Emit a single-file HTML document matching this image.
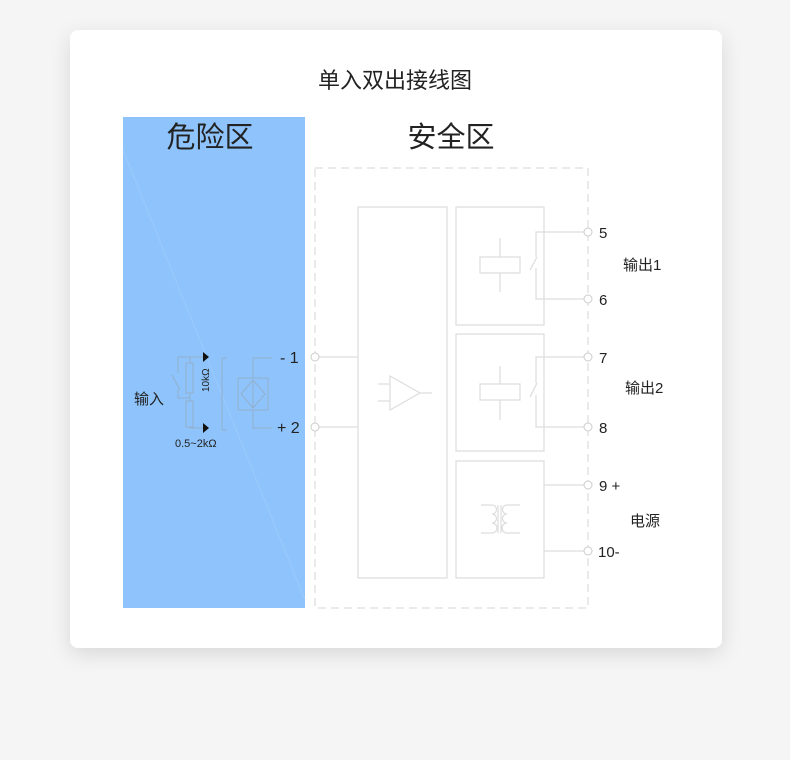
<!DOCTYPE html><html><head><meta charset="utf-8"><style>
body{margin:0;width:790px;height:760px;background:#f5f5f5;overflow:hidden;font-family:"Liberation Sans","Noto Sans CJK SC",sans-serif}
.card{position:absolute;left:70px;top:30px;width:652px;height:618px;background:#fff;border-radius:8px;box-shadow:0 6px 22px rgba(0,0,0,0.12)}
svg{position:absolute;left:0;top:0}
</style></head><body><div class="card"></div>
<svg width="790" height="760" font-family="Liberation Sans, Noto Sans CJK SC, sans-serif">
<rect x="123" y="117" width="182" height="491" fill="#8ec3fb"/>
<line x1="123" y1="150" x2="305" y2="600" stroke="#9ccafb" stroke-width="1"/>
<text x="395" y="88" font-size="22" text-anchor="middle" fill="#222">单入双出接线图</text>
<text x="210" y="147" font-size="29" text-anchor="middle" fill="#222">危险区</text>
<text x="451" y="147" font-size="29" text-anchor="middle" fill="#222">安全区</text>
<g fill="none" stroke="#ddd" stroke-width="1.2">
<rect x="315" y="168" width="273" height="440" stroke-dasharray="8,5"/>
<rect x="358" y="207" width="89" height="371"/>
<rect x="456" y="207" width="88" height="118"/>
<rect x="456" y="334" width="88" height="117"/>
<rect x="456" y="461" width="88" height="117"/>
<path d="M315 357H358M315 427H358"/>
<path d="M390 376L420 393L390 410Z M378 384H390M378 401H390M420 393H432"/>
<rect x="480" y="257" width="40" height="16"/><path d="M500 238V257M500 273V292"/>
<path d="M588 232H536V257M530 270L537 257M536 268V299H588"/>
<rect x="480" y="384" width="40" height="16"/><path d="M500 366V384M500 400V420"/>
<path d="M588 357H536V383M530 397L537 383M536 395V427H588"/>
<path d="M544 485H588M544 551H588"/>
<path d="M481 505H492M481 533H492M507 505H520M507 533H520"/>
<path d="M492 505a4.5 4.5 0 0 1 0 9a4.5 4.5 0 0 1 0 9a4.5 4.5 0 0 1 0 10M498 505V533M501 505V533M507 505a4.5 4.5 0 0 0 0 9a4.5 4.5 0 0 0 0 9a4.5 4.5 0 0 0 0 10"/>
</g>
<g fill="#fff" stroke="#ccc">
<circle cx="588" cy="232" r="4"/><circle cx="588" cy="299" r="4"/><circle cx="588" cy="357" r="4"/><circle cx="588" cy="427" r="4"/><circle cx="588" cy="485" r="4"/><circle cx="588" cy="551" r="4"/>
<circle cx="315" cy="357" r="4"/><circle cx="315" cy="427" r="4"/>
</g>
<g fill="none" stroke="#93afcc" stroke-width="1">
<rect x="238" y="378" width="30" height="32"/><path d="M253 380L241 394L253 408L265 394Z M253 380V408"/>
<path d="M253 378V358H272M253 410V428H272"/>
<path d="M227 358H222V430H227"/>
<rect x="186" y="363" width="7" height="30"/><rect x="186" y="401" width="7" height="26"/>
<path d="M178 357H205M190 357V363M190 393V401M190 427V428H205M178 357V373M172 375L180 390M178 390V398H190"/>
</g>
<path d="M203 352L209 357L203 362Z M203 423L209 428L203 433Z" fill="#111"/>
<text transform="translate(209,392) rotate(-90)" font-size="10" fill="#222">10kΩ</text>
<text x="175" y="447" font-size="11" fill="#222">0.5~2kΩ</text>
<text x="134" y="404" font-size="15" fill="#222">输入</text>
<text x="280" y="363" font-size="16" fill="#222">- 1</text>
<text x="277" y="433" font-size="16" fill="#222">+ 2</text>
<g font-size="15" fill="#222">
<text x="599" y="238">5</text><text x="599" y="305">6</text><text x="599" y="363">7</text><text x="599" y="433">8</text>
<text x="599" y="491">9 +</text><text x="598" y="557">10-</text>
<text x="623" y="270">输出1</text><text x="625" y="393">输出2</text><text x="630" y="526">电源</text>
</g>
</svg></body></html>
